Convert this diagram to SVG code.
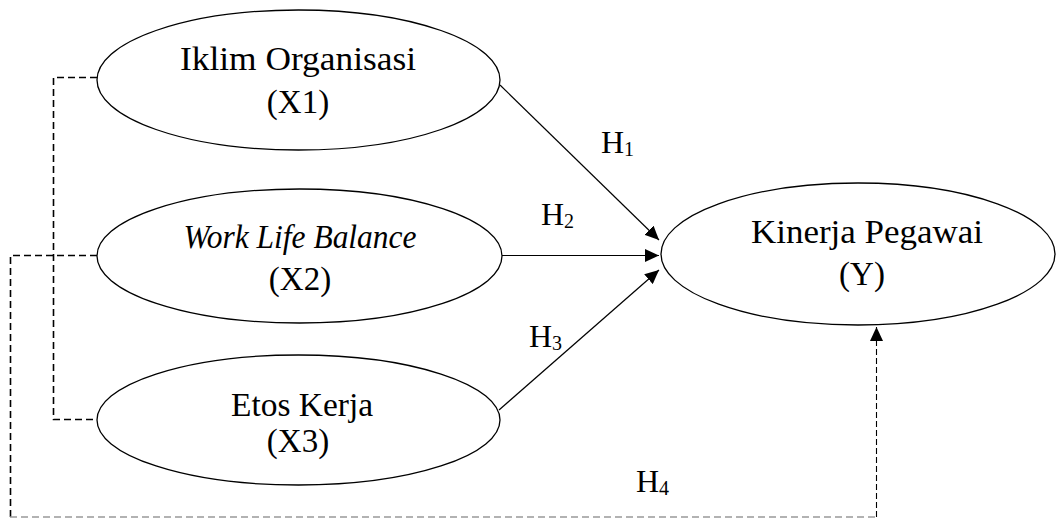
<svg xmlns="http://www.w3.org/2000/svg" width="1057" height="519" viewBox="0 0 1057 519">
<style>
.node ellipse{fill:#fff;stroke:#000;stroke-width:1.3}
.t{font-family:"Liberation Serif","Times New Roman",serif;font-size:33px;fill:#000;text-anchor:middle}
.h{font-family:"Liberation Serif","Times New Roman",serif;font-size:32px;fill:#000}
.sub{font-size:20px}
.solid{fill:none;stroke:#000;stroke-width:1.2}
.dash{fill:none;stroke:#000;stroke-width:1.6;stroke-dasharray:7 4}
.dash2{fill:none;stroke:#000;stroke-width:1.1;stroke-dasharray:6 3}
.dashg{fill:none;stroke:#999;stroke-width:1.3;stroke-dasharray:7 4}
</style>
<defs>
<marker id="arr" markerUnits="userSpaceOnUse" markerWidth="15" markerHeight="13" refX="14" refY="6.5" orient="auto">
<path d="M0,0 L14,6.5 L0,13 z" fill="#000"/>
</marker>
</defs>
<rect width="1057" height="519" fill="#fff"/>
<g id="connectors">
<line class="solid" x1="500" y1="85" x2="659" y2="240" marker-end="url(#arr)"/>
<line class="solid" x1="502" y1="255.5" x2="659" y2="255.5" marker-end="url(#arr)"/>
<line class="solid" x1="499" y1="410" x2="659" y2="270" marker-end="url(#arr)"/>
<path class="dash" d="M97,77.5 H53.5 V419.5 H97"/>
<path class="dash" d="M97,255.5 H10.5 V517"/>
<path class="dashg" d="M10,517 H876"/>
<path class="dash2" d="M876.5,517 V327" marker-end="url(#arr)"/>
<text class="h" x="601" y="153">H<tspan class="sub" dy="3">1</tspan></text>
<text class="h" x="541" y="225">H<tspan class="sub" dy="3">2</tspan></text>
<text class="h" x="529" y="347">H<tspan class="sub" dy="3">3</tspan></text>
<text class="h" x="636" y="492">H<tspan class="sub" dy="3">4</tspan></text>
</g>
<g id="x1" class="node">
<ellipse cx="298.5" cy="80" rx="201.5" ry="70"/>
<text class="t" x="298" y="70" textLength="236" lengthAdjust="spacingAndGlyphs">Iklim Organisasi</text>
<text class="t" x="298" y="113">(X1)</text>
</g>
<g id="x2" class="node">
<ellipse cx="299.5" cy="256" rx="202.5" ry="67"/>
<text class="t" x="300" y="248" font-style="italic" textLength="233" lengthAdjust="spacingAndGlyphs">Work Life Balance</text>
<text class="t" x="300" y="290">(X2)</text>
</g>
<g id="x3" class="node">
<ellipse cx="298.5" cy="420" rx="201.5" ry="65"/>
<text class="t" x="302" y="416" textLength="142" lengthAdjust="spacingAndGlyphs">Etos Kerja</text>
<text class="t" x="298" y="452">(X3)</text>
</g>
<g id="y" class="node">
<ellipse cx="858" cy="254" rx="197" ry="71"/>
<text class="t" x="867" y="243" textLength="232" lengthAdjust="spacingAndGlyphs">Kinerja Pegawai</text>
<text class="t" x="862" y="285">(Y)</text>
</g>
</svg>
